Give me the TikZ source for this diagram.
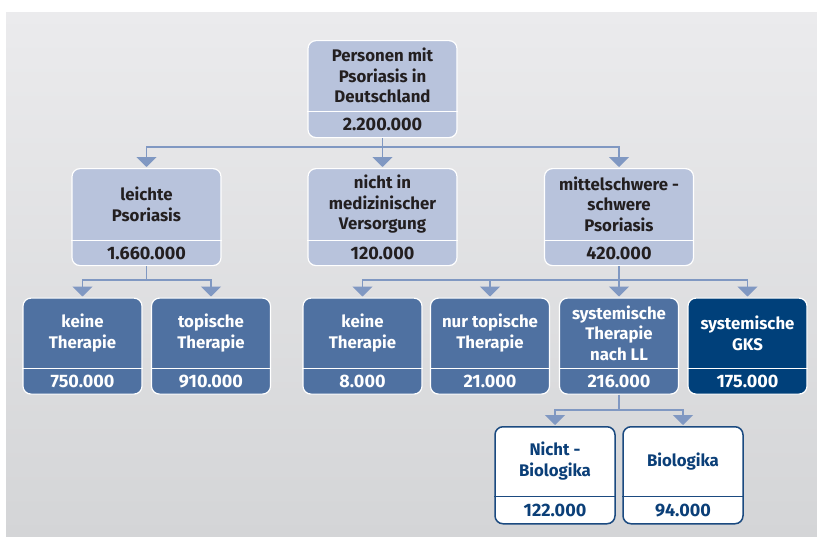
\documentclass[tikz,border=0pt]{standalone}
\usepackage{fontspec}
\setmainfont{Fira Sans}
\usetikzlibrary{arrows.meta,calc}
\definecolor{cLight}{HTML}{B8C3DC}
\definecolor{cMed}{HTML}{4F71A1}
\definecolor{cDark}{HTML}{00407A}
\definecolor{cWBord}{HTML}{1B4A80}
\definecolor{cWText}{HTML}{0B3F78}
\definecolor{cConn}{HTML}{8098C2}
\definecolor{cText}{HTML}{231F20}
\definecolor{cBgTop}{HTML}{EBEBED}
\definecolor{cBgBot}{HTML}{D4D5D7}
\tikzset{
  boxfont/.style={font=\bfseries\fontsize{16.8}{20.5}\selectfont, align=center, inner sep=0pt},
  numfont/.style={font=\bfseries\fontsize{18}{20.5}\selectfont, align=center, inner sep=0pt},
  lightbox/.style={draw=white, line width=1.2pt, fill=cLight, rounded corners=8pt},
  lightbox div/.style={draw=white, line width=1.2pt},
  lightbox txt/.style={boxfont, text=cText},
  lightbox num/.style={numfont, text=cText},
  medbox/.style={draw=white, line width=1.2pt, fill=cMed, rounded corners=8pt},
  medbox div/.style={draw=white, line width=1.2pt},
  medbox txt/.style={boxfont, text=white},
  medbox num/.style={numfont, text=white},
  darkbox/.style={draw=white, line width=1.2pt, fill=cDark, rounded corners=8pt},
  darkbox div/.style={draw=white, line width=1.2pt},
  darkbox txt/.style={boxfont, text=white},
  darkbox num/.style={numfont, text=white},
  whitebox/.style={draw=cWBord, line width=1.5pt, fill=white, rounded corners=8pt},
  whitebox div/.style={draw=cWBord, line width=1.2pt},
  whitebox txt/.style={boxfont, text=cWText},
  whitebox num/.style={numfont, text=cWText},
  conn/.style={draw=cConn, line width=1.8pt},
  connarrow/.style={conn, -{Triangle[width=20pt,length=10pt]}, shorten >=1pt},
}
% name, cx, top, w, h, d, style, title, number
\newcommand\flowbox[9]{%
  \node[#7, minimum width=#4pt, minimum height=#5pt, anchor=north, inner sep=0pt] (#1) at (#2,#3) {};
  \draw[#7 div] ([yshift=#6pt]#1.south west) -- ([yshift=#6pt]#1.south east);
  \node[#7 txt] (#1-t) at ($(#1.north)!0.5!([yshift=#6pt]#1.south)$) {#8};
  \node[#7 num] (#1-n) at ([yshift={#6pt/2}]#1.south) {#9};
}
\begin{document}
\begin{tikzpicture}[x=1pt,y=-1pt]
\useasboundingbox (0,0) rectangle (817,536);
\shade[top color=cBgTop, bottom color=cBgBot] (6,12) rectangle (817,536);

\flowbox{top}{382.5}{40}{149}{97}{27}{lightbox}{Personen mit\\Psoriasis in\\Deutschland}{2.200.000}

\flowbox{leicht}{146.5}{168}{149}{97}{26}{lightbox}{leichte\\Psoriasis}{1.660.000}
\flowbox{nicht}{382.5}{168}{149}{97}{26}{lightbox}{nicht in\\medizinischer\\Versorgung}{120.000}
\flowbox{mittel}{619}{168}{149}{97}{26}{lightbox}{mittelschwere -\\schwere\\Psoriasis}{420.000}

\flowbox{keineA}{82.5}{297.5}{119}{96}{26}{medbox}{keine\\Therapie}{750.000}
\flowbox{topi}{211}{297.5}{119}{96}{26}{medbox}{topische\\Therapie}{910.000}
\flowbox{keineB}{362.5}{297.5}{119}{96}{26}{medbox}{keine\\Therapie}{8.000}
\flowbox{nurtop}{490}{297.5}{119}{96}{26}{medbox}{nur topische\\Therapie}{21.000}
\flowbox{syst}{619}{297.5}{119}{96}{26}{medbox}{systemische\\Therapie\\nach LL}{216.000}
\flowbox{gks}{747.5}{297.5}{119}{96}{26}{darkbox}{systemische\\GKS}{175.000}

\flowbox{nbio}{555}{426}{120}{97}{28}{whitebox}{Nicht -\\Biologika}{122.000}
\flowbox{bio}{683}{426}{120}{97}{28}{whitebox}{Biologika}{94.000}

\coordinate (j1) at (382.5,147);
\coordinate (j2) at (146.5,280);
\coordinate (j3) at (619,280);
\coordinate (j4) at (619,410);

\draw[conn] (top.south) -- (j1);
\draw[connarrow] (j1) -| (leicht.north);
\draw[connarrow] (j1) -- (nicht.north);
\draw[connarrow] (j1) -| (mittel.north);

\draw[conn] (leicht.south) -- (j2);
\draw[connarrow] (j2) -| (keineA.north);
\draw[connarrow] (j2) -| (topi.north);

\draw[conn] (mittel.south) -- (j3);
\draw[connarrow] (j3) -| (keineB.north);
\draw[connarrow] (j3) -| (nurtop.north);
\draw[connarrow] (j3) -- (syst.north);
\draw[connarrow] (j3) -| (gks.north);

\draw[conn] (syst.south) -- (j4);
\draw[connarrow] (j4) -| (nbio.north);
\draw[connarrow] (j4) -| (bio.north);
\end{tikzpicture}
\end{document}
